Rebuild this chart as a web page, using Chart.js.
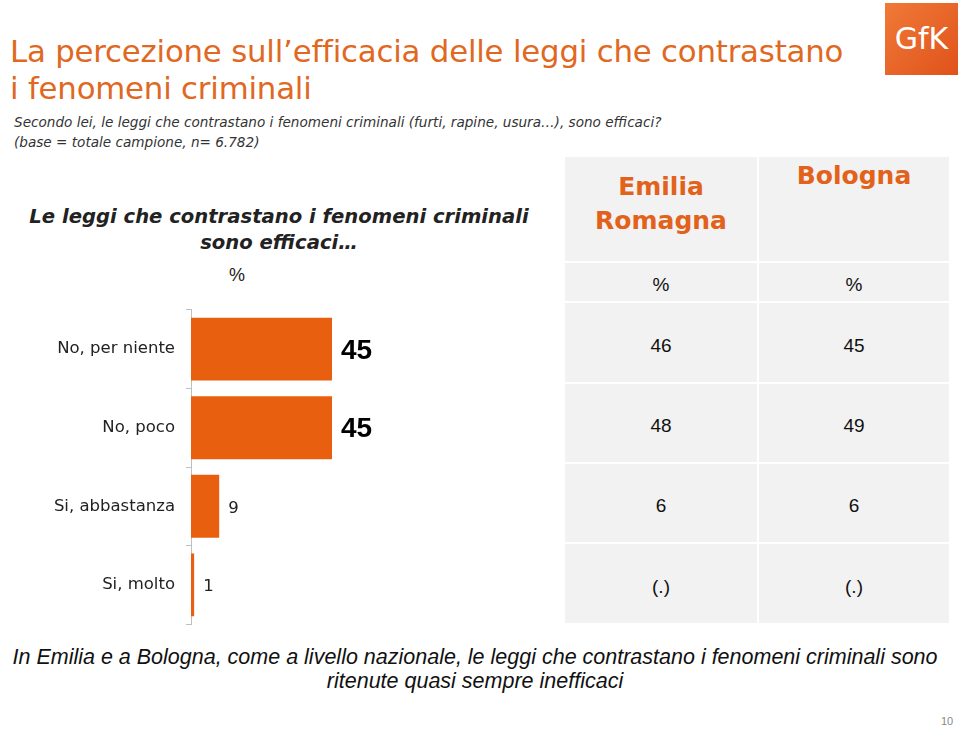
<!DOCTYPE html>
<html><head><meta charset="utf-8">
<script src="https://cdn.jsdelivr.net/npm/chart.js@4/dist/chart.umd.min.js"></script>
<style>
html,body{margin:0;padding:0;background:#fff;}
body{width:960px;height:730px;position:relative;overflow:hidden;font-family:"DejaVu Sans",sans-serif;}
.abs{position:absolute;}
#title{left:10px;top:33px;font-size:30.8px;line-height:37px;color:#e0681f;font-weight:normal;letter-spacing:-0.2px;}
#sub{left:14px;top:112px;font-size:13.6px;line-height:20px;color:#333;font-style:italic;}
#chead{left:0;width:558px;top:204px;text-align:center;font-size:19.6px;line-height:26px;font-weight:bold;font-style:italic;color:#222;}
#pct{left:229px;top:265px;font-size:18px;color:#222;font-family:"Liberation Sans",sans-serif;}
#footer{left:0;width:950px;top:645px;text-align:center;font-size:21.5px;line-height:24px;font-style:italic;color:#111;font-family:"Liberation Sans",sans-serif;}
#page{left:941px;top:715px;font-size:11px;color:#888;font-family:"Liberation Sans",sans-serif;}
#logo{left:885px;top:3px;width:73px;height:72px;background:linear-gradient(135deg,#f07a38,#e0521a);color:#fff;font-size:30px;line-height:72px;text-align:center;font-family:"DejaVu Sans",sans-serif;}
.cell{position:absolute;background:#f2f2f2;text-align:center;font-family:"Liberation Sans",sans-serif;font-size:19px;color:#111;display:flex;align-items:center;justify-content:center;box-sizing:border-box;padding-top:6px;}
.hcell{font-family:"DejaVu Sans",sans-serif;font-weight:bold;color:#e2621b;font-size:25px;line-height:34px;align-items:flex-start;}
#cwrap{left:0;top:289px;width:560px;height:356px;}
</style></head>
<body>
<div id="title" class="abs">La percezione sull’efficacia delle leggi che contrastano<br>i fenomeni criminali</div>
<div id="sub" class="abs">Secondo lei, le leggi che contrastano i fenomeni criminali (furti, rapine, usura…), sono efficaci?<br>(base = totale campione, n= 6.782)</div>
<div id="logo" class="abs">GfK</div>
<div id="chead" class="abs">Le leggi che contrastano i fenomeni criminali<br>sono efficaci…</div>
<div id="pct" class="abs">%</div>
<div id="cwrap" class="abs"><canvas id="c" width="560" height="356"></canvas></div>
<div id="table"></div>
<div id="footer" class="abs">In Emilia e a Bologna, come a livello nazionale, le leggi che contrastano i fenomeni criminali sono<br>ritenute quasi sempre inefficaci</div>
<div id="page" class="abs">10</div>
<script>
const categories = ["No, per niente", "No, poco", "Si, abbastanza", "Si, molto"];
const totalValues = [45, 45, 9, 1];
const columnHeaders = ["Emilia\nRomagna", "Bologna"];
const unitRow = ["%", "%"];
const emiliaValues = ["46", "48", "6", "(.)"];
const bolognaValues = ["45", "49", "6", "(.)"];

// table
const tbl = document.getElementById('table');
const colX = [565, 759], colW = [192, 190];
const rowY = [157, 263, 303, 384, 464, 544], rowH = [104, 38, 79, 78, 78, 79];
const cols = [[columnHeaders[0], unitRow[0], ...emiliaValues], [columnHeaders[1], unitRow[1], ...bolognaValues]];
cols.forEach((col, ci) => {
  col.forEach((txt, ri) => {
    const d = document.createElement('div');
    d.className = 'cell' + (ri === 0 ? ' hcell' : '');
    d.style.left = colX[ci] + 'px'; d.style.top = rowY[ri] + 'px';
    d.style.width = colW[ci] + 'px'; d.style.height = rowH[ri] + 'px';
    if (ri === 0) d.style.paddingTop = (ci === 0 ? 13 : 2) + 'px';
    d.innerHTML = txt.replace('\n', '<br>');
    tbl.appendChild(d);
  });
});

const valueLabels = {
  id: 'valueLabels',
  afterDatasetsDraw(chart) {
    const ctx = chart.ctx;
    const meta = chart.getDatasetMeta(0);
    ctx.save();
    ctx.textBaseline = 'middle';
    ctx.textAlign = 'left';
    meta.data.forEach((bar, i) => {
      const v = chart.data.datasets[0].data[i];
      if (v >= 40) { ctx.font = 'bold 28px "Liberation Sans",sans-serif'; ctx.fillStyle = '#000'; }
      else { ctx.font = '16.5px "DejaVu Sans",sans-serif'; ctx.fillStyle = '#222'; }
      ctx.fillText(String(v), bar.x + 9, bar.y + 2);
    });
    ctx.restore();
  }
};

new Chart(document.getElementById('c'), {
  type: 'bar',
  data: { labels: categories, datasets: [{ data: totalValues, backgroundColor: '#e8600f', borderWidth: 0, barPercentage: 0.8, categoryPercentage: 1.0 }] },
  options: {
    indexAxis: 'y', responsive: false, animation: false,
    layout: { padding: { top: 9, bottom: 5, left: 0, right: 181 } },
    plugins: { legend: { display: false }, tooltip: { enabled: false } },
    scales: {
      x: { display: false, min: 0, max: 60 },
      y: {
        afterFit(s) { s.width = 191; },
        border: { display: true, color: '#bfbfbf', width: 1 },
        grid: { display: true, drawOnChartArea: false, offset: true, tickLength: 5, color: '#bfbfbf' },
        ticks: { padding: 11, color: '#222', font: { family: '"DejaVu Sans",sans-serif', size: 16.5 } }
      }
    }
  },
  plugins: [valueLabels]
});
</script>
</body></html>
